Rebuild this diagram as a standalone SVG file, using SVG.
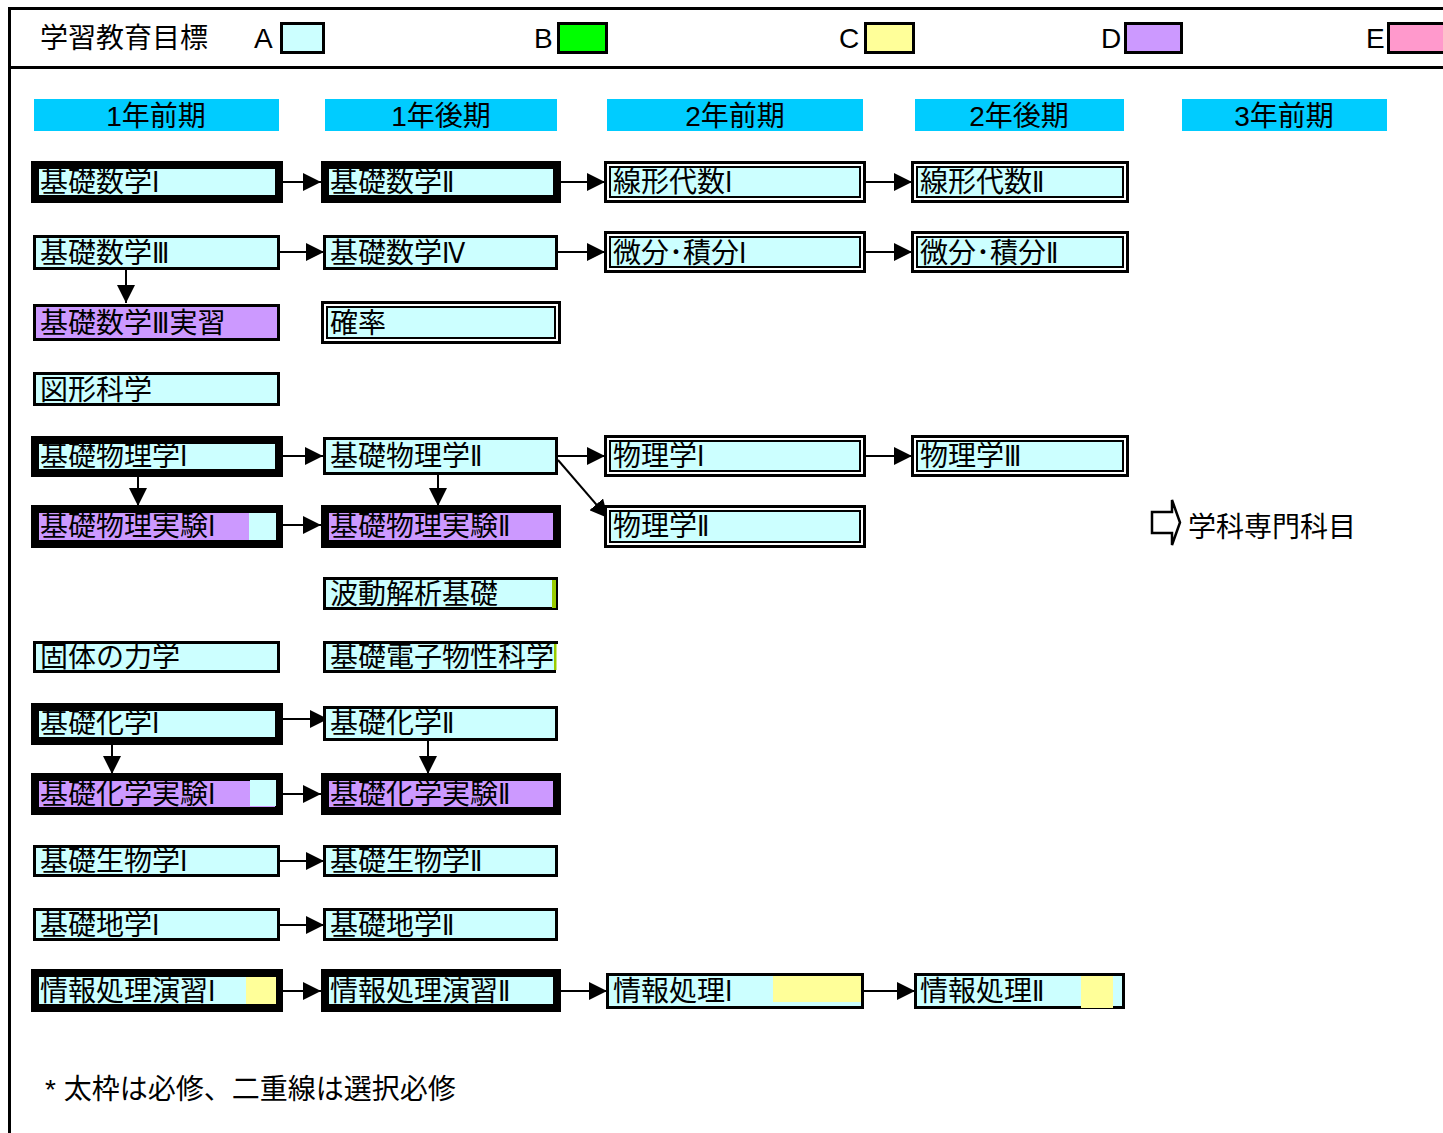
<svg xmlns="http://www.w3.org/2000/svg" width="1443" height="1133" viewBox="0 0 1443 1133">
<style>
.t{font-family:"Liberation Sans","Noto Sans CJK JP",sans-serif;font-size:28px;fill:#000}
.r{font-family:"DejaVu Sans Condensed","DejaVu Sans",sans-serif}
.f{font-family:"Liberation Sans","Noto Sans CJK JP",sans-serif;font-size:28px;fill:#000}
.thick{fill:#CCFFFF;stroke:#000;stroke-width:8}
.thickp{fill:#CC99FF;stroke:#000;stroke-width:8}
.thin{fill:#CCFFFF;stroke:#000;stroke-width:3}
.thinp{fill:#CC99FF;stroke:#000;stroke-width:3}
.dbo{fill:#fff;stroke:#000;stroke-width:3}
.dbi{fill:#CCFFFF;stroke:#000;stroke-width:2}
.hd{fill:#00CCFF}
.lg{stroke:#000;stroke-width:3}
.c{stroke:#000;stroke-width:2;fill:none;marker-end:url(#ah)}
</style>
<defs>
<marker id="ah" markerUnits="userSpaceOnUse" markerWidth="18" markerHeight="18" refX="18" refY="9" orient="auto">
<path d="M0,0 L18,9 L0,18 z" fill="#000"/>
</marker>
</defs>
<rect width="1443" height="1133" fill="#fff"/>
<g id="frame">
<line x1="8" y1="8.5" x2="1443" y2="8.5" stroke="#000" stroke-width="3"/>
<line x1="8" y1="67.5" x2="1443" y2="67.5" stroke="#000" stroke-width="3"/>
<line x1="9.5" y1="7" x2="9.5" y2="1133" stroke="#000" stroke-width="3"/>
</g>
<g id="legend">
<text class="t" x="40" y="48">学習教育目標</text>
<text class="t" x="254" y="48">A</text>
<rect class="lg" x="281.5" y="23.5" width="42" height="29" fill="#CCFFFF"/>
<text class="t" x="534" y="48">B</text>
<rect class="lg" x="558.5" y="23.5" width="48" height="29" fill="#00FF00"/>
<text class="t" x="839" y="48">C</text>
<rect class="lg" x="865.5" y="23.5" width="48" height="29" fill="#FFFF99"/>
<text class="t" x="1101" y="48">D</text>
<rect class="lg" x="1125.5" y="23.5" width="56" height="29" fill="#CC99FF"/>
<text class="t" x="1366" y="48">E</text>
<rect class="lg" x="1388.5" y="23.5" width="60" height="29" fill="#FF99CC"/>
</g>
<g id="headers">
<rect class="hd" x="34" y="99" width="245" height="32"/>
<text class="t" x="156" y="126" text-anchor="middle">1年前期</text>
<rect class="hd" x="325" y="99" width="232" height="32"/>
<text class="t" x="441" y="126" text-anchor="middle">1年後期</text>
<rect class="hd" x="607" y="99" width="256" height="32"/>
<text class="t" x="735" y="126" text-anchor="middle">2年前期</text>
<rect class="hd" x="915" y="99" width="209" height="32"/>
<text class="t" x="1019" y="126" text-anchor="middle">2年後期</text>
<rect class="hd" x="1182" y="99" width="205" height="32"/>
<text class="t" x="1284" y="126" text-anchor="middle">3年前期</text>
</g>
<g id="connectors">
<line class="c" x1="283" y1="182" x2="321" y2="182"/>
<line class="c" x1="561" y1="182" x2="605" y2="182"/>
<line class="c" x1="866" y1="182" x2="912" y2="182"/>
<line class="c" x1="280" y1="252" x2="324" y2="252"/>
<line class="c" x1="558" y1="252" x2="605" y2="252"/>
<line class="c" x1="866" y1="252" x2="912" y2="252"/>
<line class="c" x1="126" y1="270" x2="126" y2="303"/>
<line class="c" x1="283" y1="456" x2="323" y2="456"/>
<line class="c" x1="558" y1="456" x2="605" y2="456"/>
<line class="c" x1="866" y1="456" x2="912" y2="456"/>
<line class="c" x1="138" y1="477" x2="138" y2="506"/>
<line class="c" x1="438" y1="475" x2="438" y2="506"/>
<line class="c" x1="558" y1="460" x2="608" y2="518"/>
<line class="c" x1="283" y1="525" x2="321" y2="525"/>
<line class="c" x1="283" y1="719" x2="328" y2="719"/>
<line class="c" x1="112" y1="745" x2="112" y2="774"/>
<line class="c" x1="428" y1="741" x2="428" y2="774"/>
<line class="c" x1="283" y1="794" x2="321" y2="794"/>
<line class="c" x1="280" y1="861" x2="324" y2="861"/>
<line class="c" x1="280" y1="925" x2="324" y2="925"/>
<line class="c" x1="283" y1="991" x2="321" y2="991"/>
<line class="c" x1="561" y1="991" x2="607" y2="991"/>
<line class="c" x1="864" y1="991" x2="915" y2="991"/>
</g>
<g id="n-kisosugaku1"><rect class="thick" x="35" y="165" width="244" height="34"/><text class="t" x="40" y="192">基礎数学<tspan class="r">Ⅰ</tspan></text></g>
<g id="n-kisosugaku2"><rect class="thick" x="325" y="165" width="232" height="34"/><text class="t" x="330" y="192">基礎数学<tspan class="r">Ⅱ</tspan></text></g>
<g id="n-senkei1"><rect class="dbo" x="605.5" y="162.5" width="259" height="39"/><rect class="dbi" x="610" y="167" width="250" height="30"/><text class="t" x="613" y="192">線形代数<tspan class="r">Ⅰ</tspan></text></g>
<g id="n-senkei2"><rect class="dbo" x="912.5" y="162.5" width="215" height="39"/><rect class="dbi" x="917" y="167" width="206" height="30"/><text class="t" x="920" y="192">線形代数<tspan class="r">Ⅱ</tspan></text></g>
<g id="n-kisosugaku3"><rect class="thin" x="34.5" y="236.5" width="244" height="32"/><text class="t" x="40" y="263">基礎数学<tspan class="r">Ⅲ</tspan></text></g>
<g id="n-kisosugaku4"><rect class="thin" x="324.5" y="236.5" width="232" height="32"/><text class="t" x="330" y="263">基礎数学<tspan class="r">Ⅳ</tspan></text></g>
<g id="n-bibun1"><rect class="dbo" x="605.5" y="232.5" width="259" height="39"/><rect class="dbi" x="610" y="237" width="250" height="30"/><text class="t" x="613" y="263">微分･積分<tspan class="r">Ⅰ</tspan></text></g>
<g id="n-bibun2"><rect class="dbo" x="912.5" y="232.5" width="215" height="39"/><rect class="dbi" x="917" y="237" width="206" height="30"/><text class="t" x="920" y="263">微分･積分<tspan class="r">Ⅱ</tspan></text></g>
<g id="n-sugaku3jisshu"><rect class="thinp" x="34.5" y="305.5" width="244" height="34"/><text class="t" x="40" y="333">基礎数学<tspan class="r">Ⅲ</tspan>実習</text></g>
<g id="n-kakuritsu"><rect class="dbo" x="322.5" y="302.5" width="237" height="40"/><rect class="dbi" x="327" y="307" width="228" height="31"/><text class="t" x="330" y="333">確率</text></g>
<g id="n-zukei"><rect class="thin" x="34.5" y="373.5" width="244" height="31"/><text class="t" x="40" y="400">図形科学</text></g>
<g id="n-butsuri1"><rect class="thick" x="35" y="440" width="244" height="33"/><text class="t" x="40" y="466">基礎物理学<tspan class="r">Ⅰ</tspan></text></g>
<g id="n-butsuri2"><rect class="thin" x="324.5" y="438.5" width="232" height="35"/><text class="t" x="330" y="466">基礎物理学<tspan class="r">Ⅱ</tspan></text></g>
<g id="n-physics1"><rect class="dbo" x="605.5" y="436.5" width="259" height="39"/><rect class="dbi" x="610" y="441" width="250" height="30"/><text class="t" x="613" y="466">物理学<tspan class="r">Ⅰ</tspan></text></g>
<g id="n-physics3"><rect class="dbo" x="912.5" y="436.5" width="215" height="39"/><rect class="dbi" x="917" y="441" width="206" height="30"/><text class="t" x="920" y="466">物理学<tspan class="r">Ⅲ</tspan></text></g>
<g id="n-jikken1"><rect class="thickp" x="35" y="509" width="244" height="35"/><rect x="249" y="513" width="27" height="27" fill="#CCFFFF"/><text class="t" x="40" y="536">基礎物理実験<tspan class="r">Ⅰ</tspan></text></g>
<g id="n-jikken2"><rect class="thickp" x="325" y="509" width="232" height="35"/><text class="t" x="330" y="536">基礎物理実験<tspan class="r">Ⅱ</tspan></text></g>
<g id="n-physics2"><rect class="dbo" x="605.5" y="506.5" width="259" height="40"/><rect class="dbi" x="610" y="511" width="250" height="31"/><text class="t" x="613" y="536">物理学<tspan class="r">Ⅱ</tspan></text></g>
<g id="n-senmon">
<path d="M1152,512 H1172 V500 L1180,522.5 L1172,545 V533 H1152 Z" fill="#fff" stroke="#000" stroke-width="2.5" stroke-linejoin="miter"/>
<text class="t" x="1188" y="537">学科専門科目</text>
</g>
<g id="n-hado"><rect class="thin" x="324.5" y="578.5" width="232" height="30"/><rect x="552" y="580" width="4" height="28" fill="#99CC00"/><text class="t" x="330" y="604">波動解析基礎</text></g>
<g id="n-kotai"><rect class="thin" x="34.5" y="642.5" width="244" height="29"/><text class="t" x="40" y="667">固体の力学</text></g>
<g id="n-denshi"><rect x="324" y="642" width="232" height="29" fill="#CCFFFF"/><path d="M324.5,673 V642.5 H558 M324.5,671.5 H556" fill="none" stroke="#000" stroke-width="3"/><rect x="554" y="644" width="2.5" height="26" fill="#99CC00"/><text class="t" x="330" y="667">基礎電子物性科学</text></g>
<g id="n-kagaku1"><rect class="thick" x="35" y="707" width="244" height="34"/><text class="t" x="40" y="733">基礎化学<tspan class="r">Ⅰ</tspan></text></g>
<g id="n-kagaku2"><rect class="thin" x="324.5" y="707.5" width="232" height="32"/><text class="t" x="330" y="733">基礎化学<tspan class="r">Ⅱ</tspan></text></g>
<g id="n-kjikken1"><rect class="thickp" x="35" y="777" width="244" height="34"/><rect x="250" y="780" width="26" height="26" fill="#CCFFFF"/><text class="t" x="40" y="804">基礎化学実験<tspan class="r">Ⅰ</tspan></text></g>
<g id="n-kjikken2"><rect class="thickp" x="325" y="777" width="232" height="34"/><text class="t" x="330" y="804">基礎化学実験<tspan class="r">Ⅱ</tspan></text></g>
<g id="n-seibutsu1"><rect class="thin" x="34.5" y="846.5" width="244" height="29"/><text class="t" x="40" y="871">基礎生物学<tspan class="r">Ⅰ</tspan></text></g>
<g id="n-seibutsu2"><rect class="thin" x="324.5" y="846.5" width="232" height="29"/><text class="t" x="330" y="871">基礎生物学<tspan class="r">Ⅱ</tspan></text></g>
<g id="n-chigaku1"><rect class="thin" x="34.5" y="909.5" width="244" height="30"/><text class="t" x="40" y="935">基礎地学<tspan class="r">Ⅰ</tspan></text></g>
<g id="n-chigaku2"><rect class="thin" x="324.5" y="909.5" width="232" height="30"/><text class="t" x="330" y="935">基礎地学<tspan class="r">Ⅱ</tspan></text></g>
<g id="n-enshu1"><rect class="thick" x="35" y="973" width="244" height="35"/><rect x="246" y="977" width="30" height="27" fill="#FFFF99"/><text class="t" x="40" y="1001">情報処理演習<tspan class="r">Ⅰ</tspan></text></g>
<g id="n-enshu2"><rect class="thick" x="325" y="973" width="232" height="35"/><text class="t" x="330" y="1001">情報処理演習<tspan class="r">Ⅱ</tspan></text></g>
<g id="n-joho1"><rect class="thin" x="607.5" y="974.5" width="255" height="33"/><rect x="773" y="976" width="88" height="26" fill="#FFFF99"/><text class="t" x="613" y="1001">情報処理<tspan class="r">Ⅰ</tspan></text></g>
<g id="n-joho2"><rect class="thin" x="915.5" y="974.5" width="208" height="33"/><rect x="1081" y="976" width="32" height="32" fill="#FFFF99"/><text class="t" x="920" y="1001">情報処理<tspan class="r">Ⅱ</tspan></text></g>
<g id="note"><text class="f" x="45" y="1099">* 太枠は必修、二重線は選択必修</text></g>
</svg>
